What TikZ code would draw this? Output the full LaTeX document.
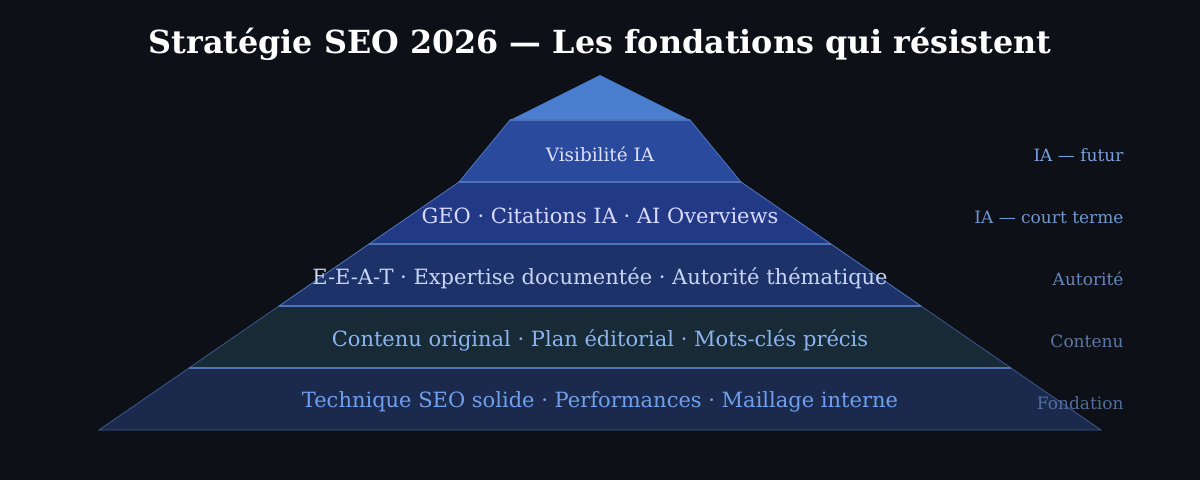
\documentclass[tikz,border=0pt]{standalone}
\usepackage{fontspec}
\setmainfont{DejaVu Serif}
\definecolor{bg}{HTML}{0D1017}
\definecolor{apexc}{HTML}{4A7FD0}
\definecolor{lA}{HTML}{2A4A9E}
\definecolor{lB}{HTML}{223A86}
\definecolor{lC}{HTML}{1D3268}
\definecolor{lD}{HTML}{172A36}
\definecolor{lE}{HTML}{1B2A4C}
\definecolor{edge}{HTML}{4F78C0}
\definecolor{sep}{HTML}{4E74B8}
\begin{document}
\begin{tikzpicture}[x=1pt,y=-1pt,
  layer/.style={draw=edge,line width=0.8pt},
  lbl/.style={font=\fontsize{21}{24}\selectfont},
  side/.style={anchor=east,font=\fontsize{17}{20}\selectfont}]
\fill[bg] (0,0) rectangle (1200,480);
\useasboundingbox (0,0) rectangle (1200,480);
\node[font=\bfseries\fontsize{31.8}{36}\selectfont,text=white] (title) at (600,44) {Stratégie SEO 2026 — Les fondations qui résistent};
\fill[apexc] (600,75) -- (690,120) -- (510,120) -- cycle;
\filldraw[layer,fill=lA] (510,120) -- (690,120) -- (741,182) -- (459,182) -- cycle;
\filldraw[layer,fill=lB] (459,182) -- (741,182) -- (831,244) -- (369,244) -- cycle;
\filldraw[layer,fill=lC] (369,244) -- (831,244) -- (921,306) -- (279,306) -- cycle;
\filldraw[layer,fill=lD,draw=edge!70!bg] (279,306) -- (921,306) -- (1011,368) -- (189,368) -- cycle;
\filldraw[layer,fill=lE,draw=edge!70!bg] (189,368) -- (1011,368) -- (1101,430) -- (99,430) -- cycle;
\foreach \y/\a/\b in {120/510/690,182/459/741,244/369/831,306/279/921,368/189/1011}
  \draw[sep,line width=2.2pt] (\a,\y) -- (\b,\y);
\node[font=\fontsize{18.4}{21}\selectfont,text=white!88!blue] (n1) at (600,154) {Visibilité IA};
\node[lbl,text=white!85!blue] (n2) at (600,216) {GEO · Citations IA · AI Overviews};
\node[lbl,text={rgb,255:red,200;green,214;blue,245}] (n3) at (600,278) {E-E-A-T · Expertise documentée · Autorité thématique};
\node[lbl,text={rgb,255:red,140;green,180;blue,240}] (n4) at (600,340) {Contenu original · Plan éditorial · Mots-clés précis};
\node[lbl,text={rgb,255:red,110;green,160;blue,240}] (n5) at (600,402) {Technique SEO solide · Performances · Maillage interne};
\node[side,text={rgb,255:red,120;green,160;blue,220}] (s1) at (1127,155) {IA — futur};
\node[side,text={rgb,255:red,110;green,150;blue,210}] (s2) at (1127,217) {IA — court terme};
\node[side,text={rgb,255:red,100;green,135;blue,190}] (s3) at (1127,279) {Autorité};
\node[side,text={rgb,255:red,90;green,120;blue,170}] (s4) at (1127,341) {Contenu};
\node[side,text={rgb,255:red,80;green,110;blue,155}] (s5) at (1127,403) {Fondation};
\end{tikzpicture}
\end{document}
